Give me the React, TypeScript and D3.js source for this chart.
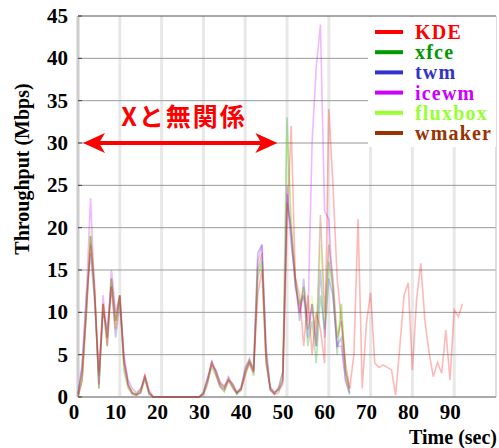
import React from 'react';
import * as d3 from 'd3';

// throughput samples, one per second
const kde = [0, 2, 10, 18, 12, 3, 11, 6, 13, 8, 12, 4, 1.5, 0.5, 0.3, 0.5, 2.6, 0.8, 0, 0, 0, 0, 0, 0, 0, 0, 0, 0, 0, 0,
  0.3, 1.5, 4.3, 2.5, 1.2, 0.8, 2.2, 1, 0.5, 0.8, 2.5, 4, 3, 12, 15, 4, 1, 0.3, 0.5, 2, 20, 32, 14, 12, 6, 12, 5, 10, 8, 4,
  34, 25, 14, 9, 4, 1, 5, 21, 1, 8.7, 12.3, 4, 3.5, 3.8, 3.5, 3.2, 0.2, 6, 12, 13.5, 3.2, 11.5, 15.8, 9, 5.2, 2.4, 4.1, 2.8, 7.9, 2, 10.3, 9.5, 11];
const xfce = [0, 2, 10, 19, 12, 1, 11, 6, 14, 9, 12, 3, 1, 0.3, 0.2, 0.5, 2, 0.3, 0, 0, 0, 0, 0, 0, 0, 0, 0, 0, 0, 0,
  0.3, 1.8, 3.5, 2.6, 1.2, 0.6, 1.8, 1.2, 0.3, 0.8, 2.8, 4, 2.5, 14, 16, 4, 0.8, 0.4, 1, 3, 33, 20, 13, 11, 12, 6, 9, 4, 12, 8,
  16, 13, 5, 11, 3, 0.5];
const twm = [0.2, 4, 12, 17, 11, 2.5, 10, 8, 13, 7, 11, 4.5, 2, 1, 0.5, 1, 2.2, 0.6, 0, 0, 0, 0, 0, 0, 0, 0, 0, 0, 0, 0,
  0.6, 2.3, 3.8, 3.2, 1.6, 1.2, 2.4, 1.4, 0.4, 1.2, 3.2, 4.2, 3.5, 17, 18, 6, 1.2, 0.6, 0.8, 1.5, 24, 18, 14, 9, 14, 7, 11, 6, 15, 7,
  14, 12, 6, 7, 2, 0.3];
const icewm = [0.3, 3.5, 12, 23.5, 12, 1.5, 12, 7, 15, 10, 12, 5, 1.5, 0.4, 0.2, 0.6, 2.4, 0.4, 0, 0, 0, 0, 0, 0, 0, 0, 0, 0, 0, 0,
  0.4, 2.2, 4.2, 3, 1.8, 1.3, 2, 1.6, 0.6, 1, 3.5, 4.4, 3, 16, 18, 5, 0.8, 0.3, 1.2, 3, 25, 19, 13, 10, 12, 9, 30, 39, 44, 22,
  21, 12, 6, 6, 2, 0.5];
const fluxbox = [0.2, 2.5, 11, 20, 12, 2, 11, 7, 14, 8, 12, 3.5, 1.2, 0.5, 0.3, 0.7, 2.3, 0.4, 0, 0, 0, 0, 0, 0, 0, 0, 0, 0, 0, 0,
  0.5, 1.9, 3.9, 2.8, 1.5, 0.9, 2.1, 1.5, 0.5, 1.1, 3, 4.3, 3.2, 15, 16, 4.5, 1, 0.5, 1, 2.5, 31, 22, 14, 11, 13, 10, 12, 8, 18, 9,
  15, 13, 7, 11, 2.5, 0.4];
const wmaker = [0.4, 3, 10, 19, 13, 1, 11, 7, 14, 9, 12, 4, 1.3, 0.5, 0.3, 0.9, 2.6, 0.5, 0, 0, 0, 0, 0, 0, 0, 0, 0, 0, 0, 0,
  0.5, 2, 4, 3, 1.5, 1, 2, 1.5, 0.5, 1, 3, 4.5, 3, 15, 17, 5, 1, 0.5, 1, 2, 23, 20, 14, 10, 13, 8, 11, 6, 21.5, 10,
  18, 14, 7, 9, 3, 1];

const names = ['KDE', 'xfce', 'twm', 'icewm', 'fluxbox', 'wmaker'];
const colors = ['#ff0000', '#009900', '#3333cc', '#cc00ff', '#99ff33', '#993300'];
const seriesValues = [kde, xfce, twm, icewm, fluxbox, wmaker];
const xTicks = [0, 10, 20, 30, 40, 50, 60, 70, 80, 90];
const yTicks = [0, 5, 10, 15, 20, 25, 30, 35, 40, 45];
const note = 'Xと無関係';

const W = 499, H = 448;
const left = 78, right = 496, top = 16, bottom = 397;
const serif = "'Liberation Serif', Tinos, 'DejaVu Serif', 'Noto Serif', serif";

export default function App() {
  const x = d3.scaleLinear().domain([0, 100]).range([left, right]);
  const y = d3.scaleLinear().domain([0, 45]).range([bottom, top]);
  const line = d3.line<number>().x((d, i) => x(i)).y(d => y(d));

  // draw the red one last so it sits on top
  const order = [1, 2, 3, 4, 5, 0];
  const txt = { fontFamily: serif, fontWeight: 'bold' as const };

  return (
    <svg width={W} height={H} style={{ position: 'absolute', left: 0, top: 0, background: '#fff' }}>
      <rect x={0} y={0} width={W} height={H} fill="#fff" />
      {/* vertical grid */}
      {xTicks.map(t => (
        <line key={'v' + t} x1={x(t)} x2={x(t)} y1={top} y2={bottom}
          stroke={t === 0 ? '#cccccc' : '#e8e8e8'} strokeWidth={3} />
      ))}
      {/* horizontal grid */}
      {yTicks.map(t => (
        <line key={'h' + t} x1={left} x2={right} y1={y(t)} y2={y(t)}
          stroke={t === 45 ? '#555' : '#999'} strokeWidth={1} />
      ))}
      <line x1={right} x2={right} y1={top} y2={bottom} stroke="#bbb" strokeWidth={1} />
      <line x1={left} x2={right} y1={bottom} y2={bottom} stroke="#888" strokeWidth={1} />
      {yTicks.map(t => (
        <line key={'yt' + t} x1={left} x2={left + 4} y1={y(t)} y2={y(t)} stroke="#444" strokeWidth={1} />
      ))}

      {/* data */}
      {order.map(i => (
        <path key={names[i]} d={line(seriesValues[i]) || ''} fill="none"
          stroke={colors[i]} strokeOpacity={0.28} strokeWidth={1.6} />
      ))}

      {/* legend */}
      <rect x={368} y={top + 1} width={right - 368} height={130} fill="#fff" />
      {names.map((n, i) => (
        <g key={'lg' + n} transform={`translate(0,${32 + i * 20.2})`}>
          <line x1={375} x2={403} y1={0} y2={0} stroke={colors[i]} strokeWidth={4} />
          <text x={415} y={7} fill={colors[i]} style={txt} fontSize={20} letterSpacing={1.2}>{n}</text>
        </g>
      ))}

      {/* annotation */}
      <line x1={x(1.2) + 14} x2={x(47.7) - 14} y1={y(30)} y2={y(30)} stroke="#ff0000" strokeWidth={4} />
      <path d={`M${x(1.2)},${y(30)} L${x(1.2) + 22},${y(30) - 10} L${x(1.2) + 16},${y(30)} L${x(1.2) + 22},${y(30) + 10} Z`} fill="#ff0000" />
      <path d={`M${x(47.7)},${y(30)} L${x(47.7) - 22},${y(30) - 10} L${x(47.7) - 16},${y(30)} L${x(47.7) - 22},${y(30) + 10} Z`} fill="#ff0000" />
      <text x={184} y={126} textAnchor="middle" fill="#ff0000"
        style={{ fontFamily: "'Noto Sans CJK JP', sans-serif", fontWeight: 'bold' }}
        fontSize={25} letterSpacing={2}>{note}</text>

      {/* axes labels */}
      {yTicks.map(t => (
        <text key={'yl' + t} x={68} y={y(t) + 7} textAnchor="end" style={txt} fontSize={21}>{t}</text>
      ))}
      {xTicks.map(t => (
        <text key={'xl' + t} x={x(t) - 4} y={419} textAnchor="middle" style={txt} fontSize={21}>{t}</text>
      ))}
      <text x={497} y={444} textAnchor="end" style={txt} fontSize={20}>Time (sec)</text>
      <text transform="translate(29,169) rotate(-90)" textAnchor="middle" style={txt} fontSize={20}>Throughput  (Mbps)</text>
    </svg>
  );
}
